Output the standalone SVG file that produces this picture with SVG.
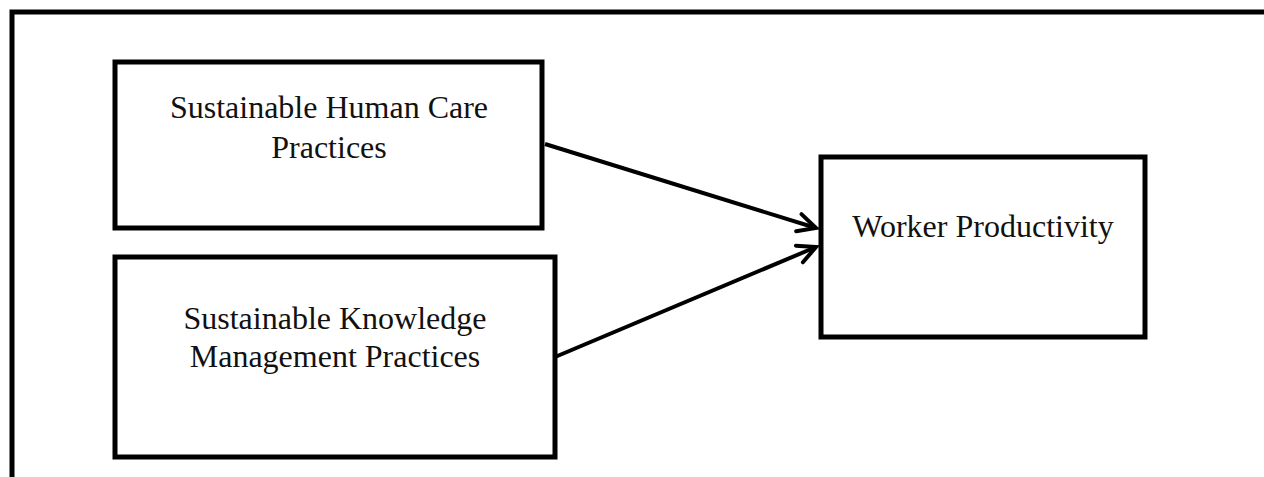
<svg xmlns="http://www.w3.org/2000/svg" width="1264" height="477" viewBox="0 0 1264 477">
<style>
.frame{fill:none;stroke:#000;stroke-width:5}
.box{fill:#fff;stroke:#000;stroke-width:5}
.lbl{font-family:"Liberation Serif","Times New Roman",serif;font-size:32px;fill:#111;text-anchor:middle}
.conn{fill:none;stroke:#000;stroke-width:4}
</style>
<defs>
<marker id="arr" viewBox="0 0 24 24" refX="21" refY="12" markerWidth="24" markerHeight="24" markerUnits="userSpaceOnUse" orient="auto">
<path d="M3,3 L21,12 L3,21" fill="none" stroke="#000" stroke-width="4" stroke-linejoin="miter" stroke-linecap="round"/>
</marker>
</defs>
<rect width="1264" height="477" fill="#fff"/>
<path class="frame" d="M12,490 L12,12 L1270,12"/>
<g id="node-human-care">
<rect class="box" x="115" y="62" width="427" height="166"/>
<text class="lbl" x="329" y="118">Sustainable Human Care</text>
<text class="lbl" x="329" y="158">Practices</text>
</g>
<g id="node-knowledge">
<rect class="box" x="115" y="257" width="440" height="200"/>
<text class="lbl" x="335" y="329">Sustainable Knowledge</text>
<text class="lbl" x="335" y="367">Management Practices</text>
</g>
<g id="node-productivity">
<rect class="box" x="821" y="157" width="324" height="180"/>
<text class="lbl" x="983" y="237">Worker Productivity</text>
</g>
<g id="connectors">
<line class="conn" x1="545" y1="144" x2="816" y2="228" marker-end="url(#arr)"/>
<line class="conn" x1="555" y1="357" x2="816" y2="247" marker-end="url(#arr)"/>
</g>
</svg>
